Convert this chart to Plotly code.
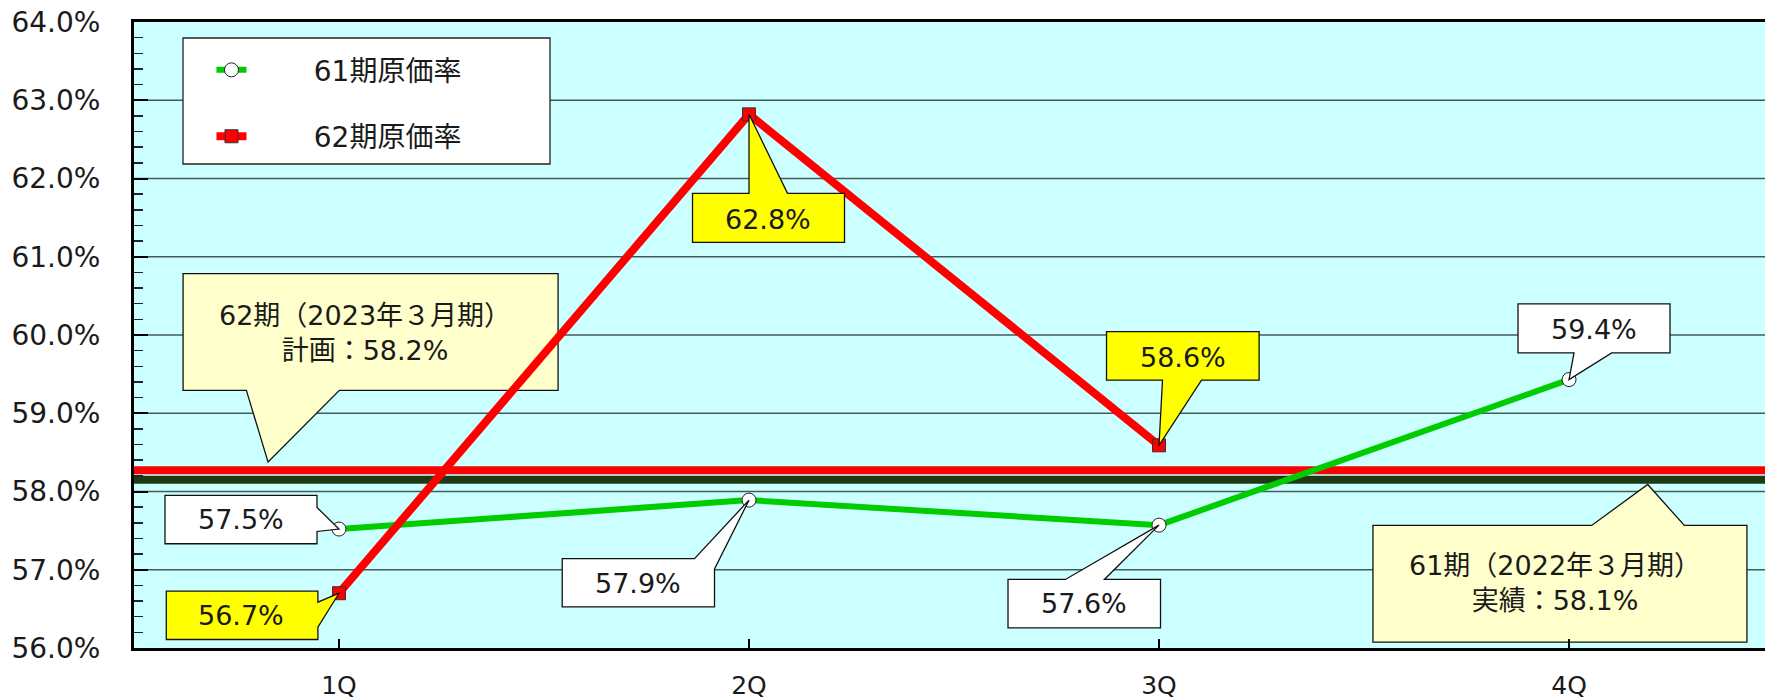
import plotly.graph_objects as go

# ---------------- data ----------------
quarters = ["1Q", "2Q", "3Q", "4Q"]
rate_61 = [57.52, 57.89, 57.57, 59.43]          # 61期原価率
rate_62 = [56.70, 62.82, 58.59]                 # 62期原価率 (1Q-3Q)
labels_61 = ["57.5%", "57.9%", "57.6%", "59.4%"]
labels_62 = ["56.7%", "62.8%", "58.6%"]
plan_62 = 58.27                                 # 62期 計画 line
actual_61 = 58.15                               # 61期 実績 line
plan_text = "62期（2023年３月期）<br>計画：58.2%"
actual_text = "61期（2022年３月期）<br>実績：58.1%"
series_names = ["61期原価率", "62期原価率"]
y_ticks = [56, 57, 58, 59, 60, 61, 62, 63, 64]

# ---------------- styles ----------------
FONT = "DejaVu Sans, Noto Sans CJK JP, sans-serif"
GREEN = "#00CC00"
RED = "#FF0000"
DARK = "#1E3A14"
BG = "#CCFFFF"
YELLOW = "#FFFF00"
CREAM = "#FFFFCC"
TXT = "#1a1a1a"
GRID = "#465a5a"
PAD = "\u00a0" * 7   # gap between legend symbol and legend text

x_pos = list(range(len(quarters)))

fig = go.Figure()
fig.add_trace(go.Scatter(
    x=x_pos, y=rate_61, mode="lines+markers", name=PAD + series_names[0],
    legendgroup="a",
    line=dict(color=GREEN, width=6),
    marker=dict(symbol="circle", size=14, color="white", line=dict(color="#222", width=1)),
    hoverinfo="skip"))
fig.add_trace(go.Scatter(
    x=x_pos[:len(rate_62)], y=rate_62, mode="lines+markers", name=PAD + series_names[1],
    legendgroup="b",
    line=dict(color=RED, width=8),
    marker=dict(symbol="square", size=13, color=RED, line=dict(color="#333", width=1)),
    hoverinfo="skip"))

shapes = []
annotations = []

# gridlines (drawn as shapes so that the cream callouts can sit above them)
for v in y_ticks[1:-1]:
    shapes.append(dict(type="line", xref="x domain", x0=0, x1=1, yref="y", y0=v, y1=v,
                       line=dict(color=GRID, width=1.5), layer="below"))

# horizontal reference lines
shapes.append(dict(type="line", xref="x domain", x0=0, x1=1, yref="y", y0=actual_61, y1=actual_61,
                   line=dict(color=DARK, width=8), layer="below"))
shapes.append(dict(type="line", xref="x domain", x0=0, x1=1, yref="y", y0=plan_62, y1=plan_62,
                   line=dict(color=RED, width=8), layer="below"))


def callout(xa, ya, pts, fill, tx, ty, text, layer="above", size=27):
    # pts in screen pixel offsets (y down) relative to anchor
    path = "M " + " L ".join(f"{px},{-py}" for px, py in pts) + " Z"
    shapes.append(dict(type="path", xref="x", yref="y", xsizemode="pixel", ysizemode="pixel",
                       xanchor=xa, yanchor=ya, path=path, fillcolor=fill,
                       line=dict(color="#111", width=1.3), layer=layer))
    annotations.append(dict(x=xa, y=ya, xref="x", yref="y", xshift=tx, yshift=-ty,
                            text=text, showarrow=False, align="center",
                            font=dict(family=FONT, size=size, color=TXT)))


# plan / actual callouts (below the series lines)
callout(-0.173, plan_62,
        [(-85, -196.7), (290, -196.7), (290, -80), (71.3, -80), (0, -8.3), (-21.7, -80), (-85, -80)],
        CREAM, 97, -137.6, plan_text, layer="below")
callout(3.192, actual_61,
        [(-274.8, 45.7), (-56.1, 45.7), (0, 4.7), (36.6, 45.7), (99.2, 45.7), (99.2, 162.4), (-274.8, 162.4)],
        CREAM, -92.8, 103.5, actual_text, layer="below")

# data label callouts for 61期
geo_61 = [
    ([(-174, -33.6), (-22, -33.6), (-22, -21.6), (0, 0), (-22, 2.4), (-22, 14.7), (-174, 14.7)], (-97.7, -9.3)),
    ([(-186.8, 58.5), (-54.5, 58.5), (0, 0), (-34.5, 68.8), (-34.5, 106.8), (-186.8, 106.8)], (-111, 83.8)),
    ([(-151, 54.3), (-93.6, 54.3), (0, 0), (-54.6, 54.3), (1.5, 54.3), (1.5, 102.7), (-151, 102.7)], (-75, 78.7)),
    ([(-51, -75.7), (101, -75.7), (101, -26.7), (42.7, -26.7), (0, 0), (5, -26.7), (-51, -26.7)], (24.7, -49.7)),
]
for i, (pts, (tx, ty)) in enumerate(geo_61):
    callout(x_pos[i], rate_61[i], pts, "white", tx, ty, labels_61[i])

geo_62 = [
    ([(-172.7, -2), (-21.1, -2), (-21.1, 9), (0, 0), (-21.1, 34), (-21.1, 46.3), (-172.7, 46.3)], (-97.7, 22.3)),
    ([(-56.5, 79), (0, 79), (0, 0), (38.5, 79), (95.5, 79), (95.5, 128), (-56.5, 128)], (19.3, 104.7)),
    ([(-52.5, -113.8), (100.1, -113.8), (100.1, -65.2), (42.5, -65.2), (0, 0), (3.5, -65.2), (-52.5, -65.2)], (24, -88.2)),
]
for i, (pts, (tx, ty)) in enumerate(geo_62):
    callout(x_pos[i], rate_62[i], pts, YELLOW, tx, ty, labels_62[i])

# legend box
shapes.append(dict(type="rect", xref="paper", yref="paper", xsizemode="pixel", ysizemode="pixel",
                   xanchor=0, yanchor=1, x0=49, x1=416, y0=-142, y1=-16,
                   fillcolor="white", line=dict(color="#222", width=1.3), layer="above"))

fig.update_layout(
    width=1765, height=700,
    margin=dict(l=134, r=0, t=22, b=52),
    paper_bgcolor="white", plot_bgcolor=BG,
    font=dict(family=FONT, color=TXT),
    showlegend=True,
    legend=dict(x=0.0475, y=0.963, xanchor="left", yanchor="top",
                bgcolor="rgba(0,0,0,0)", borderwidth=0,
                font=dict(family=FONT, size=28, color=TXT),
                tracegroupgap=27, traceorder="grouped"),
    shapes=shapes, annotations=annotations,
    xaxis=dict(range=[-0.5, 3.478], tickmode="array", tickvals=x_pos, ticktext=quarters,
               ticks="inside", ticklen=9, tickwidth=2, tickcolor="black",
               showline=True, linewidth=3, linecolor="black", mirror=True,
               showgrid=False, zeroline=False, automargin=False,
               tickfont=dict(family=FONT, size=25, color=TXT), ticklabelstandoff=13),
    yaxis=dict(range=[56, 64], tickmode="array", tickvals=y_ticks,
               ticktext=[f"{v:.1f}%" for v in y_ticks],
               ticks="inside", ticklen=14, tickwidth=2, tickcolor="black",
               showline=True, linewidth=3, linecolor="black", mirror=False,
               showgrid=False, zeroline=False, automargin=False, ticklabeloverflow="allow",
               minor=dict(dtick=0.2, tick0=56, ticks="inside", ticklen=9, tickwidth=1.5,
                          tickcolor="#222", showgrid=False),
               tickfont=dict(family=FONT, size=28, color=TXT), ticklabelstandoff=25),
    hovermode=False,
)

# remove the browser's default 8px page margin so the figure fills the window exactly
fig.write_html("out.html",
               config={"displayModeBar": False, "staticPlot": True},
               post_script="document.body.style.margin='0';document.body.style.overflow='hidden';")
